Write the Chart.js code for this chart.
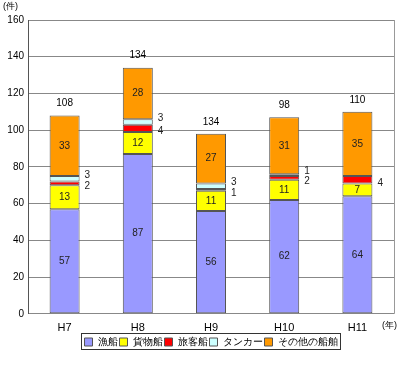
<!DOCTYPE html>
<html>
<head>
<meta charset="utf-8">
<script src="https://cdn.jsdelivr.net/npm/chart.js@4/dist/chart.umd.min.js"></script>
<style>
html, body { margin: 0; padding: 0; background: #fff; }
</style>
</head>
<body>
<canvas id="myChart" width="400" height="379"></canvas>
<script>
// 年別・船種別の件数
let nendo = ['H7', 'H8', 'H9', 'H10', 'H11']
let gyosen = [57, 87, 56, 62, 64]
let kamotsu = [13, 12, 11, 11, 7]
let ryokaku = [2, 4, 1, 2, 4]
let tanker = [3, 3, 3, 1, 0]
let sonota = [33, 28, 27, 31, 35]
// 棒の上の合計表示（元の図のまま）
let goukei = ['108', '134', '134', '98', '110']
let yMax = 160
let yStep = 20

let fuente = '"Liberation Sans", Arial, sans-serif'

let series = [
    { label: '漁船', data: gyosen, color: '#9999FF' },
    { label: '貨物船', data: kamotsu, color: '#FFFF00' },
    { label: '旅客船', data: ryokaku, color: '#FF0000' },
    { label: 'タンカー', data: tanker, color: '#CCFFFF' },
    { label: 'その他の船舶', data: sonota, color: '#FF9900' }
]

// 小さい値は棒の右側に出す時の上下のずらし
let desvio = { 2: 3, 3: -4 }

const etiquetas = {
    id: 'etiquetas',
    afterDatasetsDraw(chart) {
        const ctx = chart.ctx
        ctx.save()
        ctx.font = '10px ' + fuente
        ctx.fillStyle = '#222'
        chart.data.datasets.forEach((ds, i) => {
            const meta = chart.getDatasetMeta(i)
            meta.data.forEach((el, j) => {
                const v = ds.data[j]
                if (!v) return
                const cy = (el.y + el.base) / 2
                if (v >= 5) {
                    ctx.textAlign = 'center'
                    ctx.textBaseline = 'middle'
                    ctx.fillText(String(v), el.x, cy)
                } else {
                    ctx.textAlign = 'left'
                    ctx.textBaseline = 'middle'
                    ctx.fillText(String(v), el.x + el.width / 2 + 5, cy + (desvio[i] || 0))
                }
            })
        })
        // 合計
        const last = chart.getDatasetMeta(chart.data.datasets.length - 1)
        ctx.textAlign = 'center'
        ctx.textBaseline = 'middle'
        ctx.fillStyle = '#000'
        last.data.forEach((el, j) => {
            ctx.fillText(goukei[j], el.x, el.y - 12)
        })
        ctx.restore()
    },
    afterDraw(chart) {
        const ctx = chart.ctx
        const a = chart.chartArea
        ctx.save()
        ctx.strokeStyle = '#999'
        ctx.lineWidth = 1
        ctx.beginPath()
        ctx.moveTo(Math.round(a.right) + 0.5, a.top)
        ctx.lineTo(Math.round(a.right) + 0.5, a.bottom)
        ctx.stroke()
        ctx.font = '9px ' + fuente
        ctx.fillStyle = '#000'
        ctx.textAlign = 'left'
        ctx.textBaseline = 'middle'
        ctx.fillText('(件)', 3, 7)
        ctx.fillText('(年)', a.right - 12, a.bottom + 12)
        // 凡例の枠
        const boxes = chart.legend.legendHitBoxes
        if (boxes && boxes.length) {
            let x0 = Math.min(...boxes.map(b => b.left))
            let x1 = Math.max(...boxes.map(b => b.left + b.width))
            let y0 = Math.min(...boxes.map(b => b.top))
            let y1 = Math.max(...boxes.map(b => b.top + b.height))
            ctx.strokeStyle = '#333'
            ctx.strokeRect(Math.round(x0) - 3.5, Math.round(y0) - 3.5, x1 - x0 + 6, y1 - y0 + 6)
        }
        ctx.restore()
    }
}

new Chart(document.getElementById('myChart'), {
    type: 'bar',
    data: {
        labels: nendo,
        datasets: series.map(s => ({
            label: s.label,
            data: s.data,
            backgroundColor: s.color,
            borderColor: '#555',
            borderWidth: 1,
            borderSkipped: false,
            categoryPercentage: 1,
            barPercentage: 0.41
        }))
    },
    options: {
        responsive: false,
        animation: false,
        layout: { padding: { top: 20, right: 6, bottom: 22, left: 0 } },
        scales: {
            x: {
                stacked: true,
                grid: { display: false },
                border: { display: false },
                ticks: { color: '#000', font: { family: fuente, size: 11 }, padding: 0 }
            },
            y: {
                stacked: true,
                min: 0,
                max: yMax,
                ticks: { stepSize: yStep, color: '#000', font: { family: fuente, size: 10 }, padding: 4 },
                grid: { color: '#888', drawTicks: false },
                border: { display: true, color: '#555' },
                afterFit: (s) => { s.width = 28 }
            }
        },
        plugins: {
            legend: {
                position: 'bottom',
                fullSize: false,
                labels: {
                    boxWidth: 8,
                    boxHeight: 8,
                    padding: 2,
                    color: '#000',
                    font: { family: fuente, size: 10 }
                }
            },
            tooltip: { enabled: false }
        }
    },
    plugins: [etiquetas]
})
</script>
</body>
</html>
